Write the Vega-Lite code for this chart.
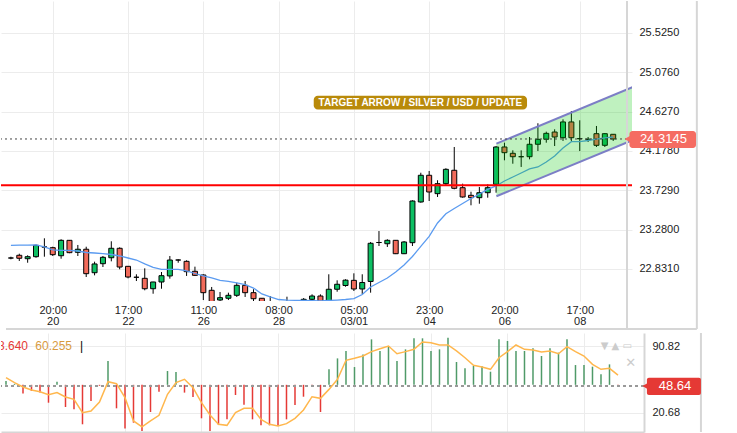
{
  "$schema": "https://vega.github.io/schema/vega-lite/v6.json",
  "padding": 0,
  "background": "white",
  "spacing": 1,
  "config": {
    "view": {"stroke": null},
    "font": "Liberation Sans",
    "axis": {"labelFont": "Liberation Sans", "titleFont": "Liberation Sans"}
  },
  "datasets": {
    "k": [
      {"i":0,"o":22.955,"h":22.970,"l":22.940,"c":22.955,"ma":23.100,"rsi":54.0,"sig":57.5},
      {"i":1,"o":22.986,"h":23.004,"l":22.921,"c":22.952,"ma":23.101,"rsi":51.0,"sig":52.3},
      {"i":2,"o":22.947,"h":22.986,"l":22.901,"c":22.970,"ma":23.102,"rsi":41.0,"sig":47.7},
      {"i":3,"o":22.970,"h":23.107,"l":22.958,"c":23.100,"ma":23.104,"rsi":43.5,"sig":44.5},
      {"i":4,"o":23.081,"h":23.180,"l":22.970,"c":23.081,"ma":23.081,"rsi":41.8,"sig":42.8},
      {"i":5,"o":23.073,"h":23.084,"l":22.978,"c":22.993,"ma":23.047,"rsi":31.2,"sig":39.7},
      {"i":6,"o":22.981,"h":23.169,"l":22.947,"c":23.157,"ma":23.043,"rsi":53.3,"sig":41.8},
      {"i":7,"o":23.157,"h":23.160,"l":23.010,"c":23.016,"ma":23.043,"rsi":26.7,"sig":37.2},
      {"i":8,"o":23.020,"h":23.104,"l":22.978,"c":23.055,"ma":23.035,"rsi":24.2,"sig":34.7},
      {"i":9,"o":23.055,"h":23.084,"l":22.738,"c":22.776,"ma":23.018,"rsi":8.5,"sig":20.7},
      {"i":10,"o":22.787,"h":22.913,"l":22.757,"c":22.887,"ma":23.012,"rsi":33.0,"sig":22.5},
      {"i":11,"o":22.890,"h":22.978,"l":22.852,"c":22.963,"ma":23.004,"rsi":49.0,"sig":31.9},
      {"i":12,"o":22.958,"h":23.146,"l":22.917,"c":23.066,"ma":22.995,"rsi":75.0,"sig":53.3},
      {"i":13,"o":23.066,"h":23.077,"l":22.826,"c":22.852,"ma":22.978,"rsi":25.3,"sig":51.2},
      {"i":14,"o":22.860,"h":22.862,"l":22.723,"c":22.738,"ma":22.955,"rsi":4.2,"sig":36.5},
      {"i":15,"o":22.735,"h":22.769,"l":22.692,"c":22.735,"ma":22.932,"rsi":10.2,"sig":12.0},
      {"i":16,"o":22.723,"h":22.837,"l":22.586,"c":22.604,"ma":22.887,"rsi":1.4,"sig":5.7},
      {"i":17,"o":22.604,"h":22.683,"l":22.547,"c":22.681,"ma":22.847,"rsi":21.4,"sig":12.0},
      {"i":18,"o":22.681,"h":22.795,"l":22.604,"c":22.753,"ma":22.826,"rsi":42.8,"sig":17.9},
      {"i":19,"o":22.750,"h":22.978,"l":22.719,"c":22.932,"ma":22.824,"rsi":64.5,"sig":40.0},
      {"i":20,"o":22.932,"h":22.940,"l":22.901,"c":22.932,"ma":22.826,"rsi":63.5,"sig":52.3},
      {"i":21,"o":22.917,"h":22.929,"l":22.750,"c":22.799,"ma":22.807,"rsi":41.8,"sig":55.8},
      {"i":22,"o":22.803,"h":22.856,"l":22.750,"c":22.757,"ma":22.778,"rsi":37.2,"sig":47.0},
      {"i":23,"o":22.761,"h":22.769,"l":22.475,"c":22.559,"ma":22.750,"rsi":14.8,"sig":31.2},
      {"i":24,"o":22.586,"h":22.624,"l":22.441,"c":22.452,"ma":22.727,"rsi":1.4,"sig":18.3},
      {"i":25,"o":22.475,"h":22.567,"l":22.452,"c":22.502,"ma":22.700,"rsi":7.7,"sig":8.5},
      {"i":26,"o":22.495,"h":22.559,"l":22.475,"c":22.529,"ma":22.687,"rsi":13.7,"sig":7.4},
      {"i":27,"o":22.529,"h":22.673,"l":22.510,"c":22.643,"ma":22.670,"rsi":39.3,"sig":20.7},
      {"i":28,"o":22.643,"h":22.692,"l":22.510,"c":22.559,"ma":22.652,"rsi":29.0,"sig":25.3},
      {"i":29,"o":22.559,"h":22.598,"l":22.452,"c":22.490,"ma":22.612,"rsi":13.7,"sig":25.3},
      {"i":30,"o":22.495,"h":22.498,"l":22.372,"c":22.407,"ma":22.544,"rsi":7.4,"sig":13.7},
      {"i":31,"o":22.452,"h":22.521,"l":22.370,"c":22.395,"ma":22.510,"rsi":7.4,"sig":8.5},
      {"i":32,"o":22.400,"h":22.455,"l":22.370,"c":22.430,"ma":22.481,"rsi":6.7,"sig":6.7},
      {"i":33,"o":22.430,"h":22.513,"l":22.400,"c":22.450,"ma":22.475,"rsi":13.7,"sig":9.2},
      {"i":34,"o":22.450,"h":22.460,"l":22.410,"c":22.440,"ma":22.472,"rsi":28.8,"sig":14.8},
      {"i":35,"o":22.452,"h":22.498,"l":22.430,"c":22.483,"ma":22.470,"rsi":37.5,"sig":23.5},
      {"i":36,"o":22.483,"h":22.540,"l":22.464,"c":22.521,"ma":22.467,"rsi":49.0,"sig":37.5},
      {"i":37,"o":22.521,"h":22.540,"l":22.441,"c":22.452,"ma":22.466,"rsi":21.4,"sig":35.8},
      {"i":38,"o":22.430,"h":22.769,"l":22.420,"c":22.598,"ma":22.470,"rsi":66.3,"sig":45.2},
      {"i":39,"o":22.598,"h":22.700,"l":22.570,"c":22.655,"ma":22.475,"rsi":77.8,"sig":55.8},
      {"i":40,"o":22.641,"h":22.712,"l":22.627,"c":22.702,"ma":22.481,"rsi":85.6,"sig":75.8},
      {"i":41,"o":22.700,"h":22.780,"l":22.578,"c":22.601,"ma":22.492,"rsi":68.7,"sig":77.9},
      {"i":42,"o":22.601,"h":22.769,"l":22.544,"c":22.675,"ma":22.538,"rsi":82.0,"sig":80.3},
      {"i":43,"o":22.687,"h":23.138,"l":22.559,"c":23.123,"ma":22.624,"rsi":97.8,"sig":84.9},
      {"i":44,"o":23.132,"h":23.263,"l":23.092,"c":23.132,"ma":22.675,"rsi":85.6,"sig":88.0},
      {"i":45,"o":23.118,"h":23.169,"l":23.081,"c":23.157,"ma":22.727,"rsi":90.8,"sig":90.8},
      {"i":46,"o":23.157,"h":23.160,"l":23.000,"c":23.004,"ma":22.795,"rsi":75.0,"sig":82.7},
      {"i":47,"o":23.004,"h":23.149,"l":23.000,"c":23.138,"ma":22.875,"rsi":87.3,"sig":84.9},
      {"i":48,"o":23.130,"h":23.614,"l":23.092,"c":23.606,"ma":22.972,"rsi":98.9,"sig":87.3},
      {"i":49,"o":23.595,"h":23.929,"l":23.587,"c":23.900,"ma":23.087,"rsi":98.9,"sig":95.0},
      {"i":50,"o":23.900,"h":23.949,"l":23.606,"c":23.709,"ma":23.201,"rsi":85.6,"sig":94.3},
      {"i":51,"o":23.690,"h":23.843,"l":23.652,"c":23.804,"ma":23.355,"rsi":87.3,"sig":91.9},
      {"i":52,"o":23.804,"h":23.980,"l":23.789,"c":23.968,"ma":23.461,"rsi":99.6,"sig":91.9},
      {"i":53,"o":23.957,"h":24.223,"l":23.740,"c":23.751,"ma":23.520,"rsi":74.0,"sig":85.6},
      {"i":54,"o":23.758,"h":23.804,"l":23.644,"c":23.652,"ma":23.578,"rsi":67.3,"sig":78.5},
      {"i":55,"o":23.671,"h":23.712,"l":23.557,"c":23.644,"ma":23.635,"rsi":69.8,"sig":70.5},
      {"i":56,"o":23.644,"h":23.766,"l":23.575,"c":23.701,"ma":23.686,"rsi":69.4,"sig":68.7},
      {"i":57,"o":23.701,"h":23.797,"l":23.644,"c":23.758,"ma":23.738,"rsi":63.8,"sig":66.3},
      {"i":58,"o":23.797,"h":24.234,"l":23.701,"c":24.223,"ma":23.778,"rsi":97.8,"sig":78.5},
      {"i":59,"o":24.223,"h":24.272,"l":24.071,"c":24.158,"ma":23.835,"rsi":96.1,"sig":84.9},
      {"i":60,"o":24.151,"h":24.185,"l":24.032,"c":24.112,"ma":23.880,"rsi":85.6,"sig":91.9},
      {"i":61,"o":24.112,"h":24.185,"l":23.995,"c":24.112,"ma":23.926,"rsi":85.6,"sig":87.3},
      {"i":62,"o":24.112,"h":24.337,"l":24.082,"c":24.254,"ma":23.972,"rsi":88.4,"sig":86.6},
      {"i":63,"o":24.254,"h":24.494,"l":24.177,"c":24.311,"ma":23.995,"rsi":80.3,"sig":84.5},
      {"i":64,"o":24.311,"h":24.398,"l":24.272,"c":24.379,"ma":24.052,"rsi":88.4,"sig":85.6},
      {"i":65,"o":24.394,"h":24.425,"l":24.234,"c":24.337,"ma":24.120,"rsi":83.8,"sig":82.7},
      {"i":66,"o":24.329,"h":24.539,"l":24.292,"c":24.509,"ma":24.212,"rsi":97.8,"sig":90.1},
      {"i":67,"o":24.509,"h":24.634,"l":24.292,"c":24.329,"ma":24.284,"rsi":70.8,"sig":84.9},
      {"i":68,"o":24.318,"h":24.528,"l":24.177,"c":24.318,"ma":24.284,"rsi":70.8,"sig":80.3},
      {"i":69,"o":24.311,"h":24.337,"l":24.280,"c":24.311,"ma":24.297,"rsi":69.1,"sig":71.5},
      {"i":70,"o":24.375,"h":24.463,"l":24.223,"c":24.242,"ma":24.314,"rsi":61.0,"sig":66.3},
      {"i":71,"o":24.242,"h":24.380,"l":24.223,"c":24.375,"ma":24.326,"rsi":71.5,"sig":67.3},
      {"i":72,"o":24.368,"h":24.370,"l":24.292,"c":24.3145,"ma":24.337,"rsi":48.64,"sig":60.255}
    ],
    "ch": [
      {"i":58.04,"lo":23.660,"hi":24.261},
      {"i":75,"lo":24.328,"hi":24.933}
    ]
  },
  "vconcat": [
    {
      "width": 631,
      "height": 300,
      "data": {"name": "k"},
      "layer": [
        {
          "mark": {"type": "rule", "color": "#000", "strokeWidth": 1, "clip": true},
          "encoding": {
            "x": {"field": "i", "type": "quantitative",
              "scale": {"domain": [-0.588, 73.65], "nice": false, "zero": false},
              "axis": {"title": null, "values": [5,14,23,32,41,50,59,68],
                "labelExpr": "datum.value==5?['20:00','20']:datum.value==14?['17:00','22']:datum.value==23?['11:00','26']:datum.value==32?['08:00','28']:datum.value==41?['05:00','03/01']:datum.value==50?['23:00','04']:datum.value==59?['20:00','06']:['17:00','08']",
                "grid": true, "gridColor": "#ececec", "domain": false, "ticks": false,
                "labelPadding": 3, "labelFontSize": 11, "labelColor": "#222", "labelLineHeight": 11, "labelFlush": false}},
            "y": {"field": "l", "type": "quantitative",
              "scale": {"domain": [22.4639, 25.8905], "nice": false, "zero": false},
              "axis": {"title": null, "orient": "right", "values": [22.831,23.28,23.729,24.178,24.627,25.076,25.525], "format": ".4f",
                "grid": true, "gridColor": "#ececec", "domain": false, "ticks": false,
                "labelPadding": 7, "labelFontSize": 11, "labelColor": "#222"}},
            "y2": {"field": "h"}
          }
        },
        {
          "mark": {"type": "bar", "size": 5, "stroke": "#000", "strokeWidth": 1, "clip": true},
          "encoding": {
            "x": {"field": "i", "type": "quantitative"},
            "y": {"field": "o", "type": "quantitative"},
            "y2": {"field": "c"},
            "fill": {"condition": [{"test": "datum.c > datum.o", "value": "#0dbf63"}, {"test": "datum.c < datum.o", "value": "#f26b5b"}], "value": "#000"}
          }
        },
        {
          "mark": {"type": "line", "color": "#5b9bf0", "strokeWidth": 1.3, "clip": true},
          "encoding": {
            "x": {"field": "i", "type": "quantitative"},
            "y": {"field": "ma", "type": "quantitative"}
          }
        },
        {
          "data": {"name": "ch"},
          "mark": {"type": "area", "color": "#00c800", "opacity": 0.25, "clip": true},
          "encoding": {
            "x": {"field": "i", "type": "quantitative"},
            "y": {"field": "lo", "type": "quantitative"},
            "y2": {"field": "hi"}
          }
        },
        {
          "data": {"name": "ch"},
          "mark": {"type": "line", "color": "#7c7ec6", "strokeWidth": 2, "clip": true},
          "encoding": {
            "x": {"field": "i", "type": "quantitative"},
            "y": {"field": "hi", "type": "quantitative"}
          }
        },
        {
          "data": {"name": "ch"},
          "mark": {"type": "line", "color": "#7c7ec6", "strokeWidth": 2, "clip": true},
          "encoding": {
            "x": {"field": "i", "type": "quantitative"},
            "y": {"field": "lo", "type": "quantitative"}
          }
        },
        {
          "data": {"values": [{}]},
          "mark": {"type": "rule", "color": "#ff0000", "strokeWidth": 2},
          "encoding": {"y": {"datum": 23.785}}
        },
        {
          "data": {"values": [{}]},
          "mark": {"type": "rule", "color": "#444", "strokeWidth": 1, "strokeDash": [2, 3]},
          "encoding": {"y": {"datum": 24.3145}}
        },
        {
          "data": {"values": [{}]},
          "mark": {"type": "rect", "color": "#b98a0a", "cornerRadius": 4},
          "encoding": {
            "x": {"datum": 36.2}, "x2": {"datum": 61.7},
            "y": {"datum": 24.808}, "y2": {"datum": 24.650}
          }
        },
        {
          "data": {"values": [{"t": "TARGET ARROW / SILVER / USD / UPDATE"}]},
          "mark": {"type": "text", "color": "white", "fontWeight": "bold", "fontSize": 10, "align": "center", "baseline": "middle"},
          "encoding": {
            "x": {"datum": 48.95}, "y": {"datum": 24.729},
            "text": {"field": "t"}
          }
        },
        {
          "data": {"values": [{}]},
          "mark": {"type": "rule", "color": "#d6d6d6", "strokeWidth": 2},
          "encoding": {"x": {"datum": 73.65}, "y": {"datum": 25.8905}, "y2": {"datum": 22.144}}
        },
        {
          "data": {"values": [{}]},
          "mark": {"type": "rule", "color": "#d6d6d6", "strokeWidth": 2},
          "encoding": {"x": {"datum": 82.0}, "y": {"datum": 25.8905}, "y2": {"datum": 22.144}}
        },
        {
          "data": {"values": [{}]},
          "mark": {"type": "rule", "color": "#d6d6d6", "strokeWidth": 2},
          "encoding": {"x": {"datum": -0.588}, "x2": {"datum": 82.0}, "y": {"datum": 22.144}}
        },
        {
          "data": {"values": [{}]},
          "mark": {"type": "rect", "color": "#f56c62", "cornerRadius": 3},
          "encoding": {
            "x": {"datum": 73.94}, "x2": {"datum": 81.9},
            "y": {"datum": 24.406}, "y2": {"datum": 24.212}
          }
        },
        {
          "data": {"values": [{}]},
          "mark": {"type": "point", "shape": "triangle-left", "filled": true, "color": "#f56c62", "opacity": 1, "size": 70},
          "encoding": {"x": {"datum": 73.8}, "y": {"datum": 24.3145}}
        },
        {
          "data": {"values": [{"t": "24.3145"}]},
          "mark": {"type": "text", "color": "white", "fontSize": 13, "align": "center", "baseline": "middle"},
          "encoding": {"x": {"datum": 78.0}, "y": {"datum": 24.3145}, "text": {"field": "t"}}
        }
      ]
    },
    {
      "width": 643,
      "height": 99,
      "data": {"name": "k"},
      "layer": [
        {
          "mark": {"type": "rule", "strokeWidth": 1.5, "clip": true},
          "encoding": {
            "x": {"field": "i", "type": "quantitative",
              "scale": {"domain": [-0.588, 75.06], "nice": false, "zero": false},
              "axis": {"title": null, "values": [5,14,23,32,41,50,59,68], "labels": false,
                "grid": true, "gridColor": "#ececec", "domain": true, "domainColor": "#d6d6d6", "domainWidth": 2, "ticks": false}},
            "y": {"field": "rsi", "type": "quantitative",
              "scale": {"domain": [0.39, 104.49], "nice": false, "zero": false},
              "axis": {"title": null, "orient": "right", "values": [20.68, 90.82], "format": ".2f",
                "grid": true, "gridColor": "#ececec", "domain": true, "domainColor": "#d6d6d6", "domainWidth": 2, "ticks": false,
                "labelPadding": 8, "labelFontSize": 11, "labelColor": "#222"}},
            "y2": {"datum": 50},
            "color": {"condition": {"test": "datum.rsi >= 50", "value": "#4f9a68"}, "value": "#e53935"}
          }
        },
        {
          "data": {"values": [{}]},
          "mark": {"type": "rule", "color": "#999", "strokeWidth": 2, "strokeDash": [3, 3]},
          "encoding": {"y": {"datum": 48.64}}
        },
        {
          "mark": {"type": "line", "color": "#ffb74d", "strokeWidth": 1.5, "clip": true},
          "encoding": {
            "x": {"field": "i", "type": "quantitative"},
            "y": {"field": "sig", "type": "quantitative"}
          }
        },
        {
          "data": {"values": [{"t": "48.640"}]},
          "mark": {"type": "text", "color": "#e53935", "fontSize": 12, "align": "right", "baseline": "middle", "clip": true},
          "encoding": {"x": {"datum": 2.59}, "y": {"datum": 90.82}, "text": {"field": "t"}}
        },
        {
          "data": {"values": [{"t": "60.255"}]},
          "mark": {"type": "text", "color": "#d89a3e", "fontSize": 12, "align": "left", "baseline": "middle"},
          "encoding": {"x": {"datum": 3.45}, "y": {"datum": 90.82}, "text": {"field": "t"}}
        },
        {
          "data": {"values": [{"t": "|"}]},
          "mark": {"type": "text", "color": "#000", "fontSize": 12, "align": "center", "baseline": "middle"},
          "encoding": {"x": {"datum": 8.9}, "y": {"datum": 90.82}, "text": {"field": "t"}}
        },
        {
          "data": {"values": [{"t": "▼ ▲ ▭"}]},
          "mark": {"type": "text", "color": "#cccccc", "fontSize": 10, "align": "center", "baseline": "middle", "font": "DejaVu Sans"},
          "encoding": {"x": {"datum": 71.8}, "y": {"datum": 90.82}, "text": {"field": "t"}}
        },
        {
          "data": {"values": [{"t": "✕"}]},
          "mark": {"type": "text", "color": "#cccccc", "fontSize": 13, "align": "center", "baseline": "middle", "font": "DejaVu Sans"},
          "encoding": {"x": {"datum": 73.5}, "y": {"datum": 73.0}, "text": {"field": "t"}}
        },
        {
          "data": {"values": [{}]},
          "mark": {"type": "rule", "color": "#d6d6d6", "strokeWidth": 2},
          "encoding": {"x": {"datum": 81.76}, "y": {"datum": 104.49}, "y2": {"datum": 0.39}}
        },
        {
          "data": {"values": [{}]},
          "mark": {"type": "rect", "color": "#e53935", "cornerRadius": 2},
          "encoding": {
            "x": {"datum": 75.4}, "x2": {"datum": 81.76},
            "y": {"datum": 57.5}, "y2": {"datum": 39.3}
          }
        },
        {
          "data": {"values": [{}]},
          "mark": {"type": "point", "shape": "triangle-left", "filled": true, "color": "#e53935", "opacity": 1, "size": 70},
          "encoding": {"x": {"datum": 75.3}, "y": {"datum": 48.64}}
        },
        {
          "data": {"values": [{"t": "48.64"}]},
          "mark": {"type": "text", "color": "white", "fontSize": 13, "align": "center", "baseline": "middle"},
          "encoding": {"x": {"datum": 78.7}, "y": {"datum": 48.64}, "text": {"field": "t"}}
        }
      ]
    }
  ]
}
